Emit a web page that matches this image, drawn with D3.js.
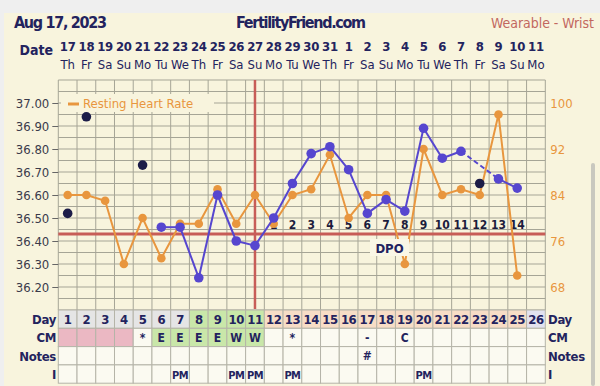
<!DOCTYPE html>
<html><head><meta charset="utf-8">
<script src="https://cdn.jsdelivr.net/npm/d3@7"></script>
<style>
html,body{margin:0;padding:0;background:#efefef;}
svg{display:block;}
text{font-family:"DejaVu Sans Condensed","DejaVu Sans",Verdana,sans-serif;}
</style></head><body>
<svg id="c" width="600" height="386"></svg>
<script>
// ---- data ----
const days = d3.range(1, 27);
const dates = [17,18,19,20,21,22,23,24,25,26,27,28,29,30,31,1,2,3,4,5,6,7,8,9,10,11];
const weekdays = ["Th","Fr","Sa","Su","Mo","Tu","We","Th","Fr","Sa","Su","Mo","Tu","We","Th","Fr","Sa","Su","Mo","Tu","We","Th","Fr","Sa","Su","Mo"];
const temps = [36.52,36.94,null,null,36.73,36.46,36.46,36.24,36.60,36.40,36.38,36.50,36.65,36.78,36.81,36.71,36.52,36.58,36.53,36.89,36.76,36.79,36.65,36.67,36.63,null];
const excludedDays = [1,2,5,23];
const heartRate = [84,84,83,72,80,73,79,79,85,79,84,79,84,85,91,80,84,84,72,92,84,85,84,98,70,null];
const tempTicks = [37.00,36.90,36.80,36.70,36.60,36.50,36.40,36.30,36.20];
const hrTicks = [100,92,84,76,68];
const coverline = 36.43;
const ovulationDay = 11;
const dpoLabels = [1,2,3,4,5,6,7,8,9,10,11,12,13,14];
const dpoStartDay = 12;
const dayRowType = ["g","g","g","g","g","g","g","e","e","e","e","p","p","p","p","p","p","p","p","p","p","p","p","p","p","l"];
const cm = ["","","","","*","E","E","E","E","W","W","","*","","","","-","","C","","","","","","",""];
const cmType = ["r","r","r","r","","e","e","e","e","e","e","","","","","","","","","","","","","","",""];
const notes = ["","","","","","","","","","","","","","","","","#","","","","","","","","",""];
const intercourse = ["","","","","","","PM","","","PM","PM","","PM","","","","","","","PM","","","","","",""];

// ---- styles ----
const NAVY = "#23235e", BLUE = "#5646cf", DARK = "#1c1c48", ORANGE = "#e8963e", RED = "#c75d57", GRID = "#a6a596";
const svg = d3.select("#c");
svg.append("rect").attr("x",4).attr("y",13).attr("width",596).attr("height",373).attr("fill","#f8f4dd");

const x = d3.scaleBand().domain(days).range([58.3, 545.3]).padding(0);
const cx = d => x(d) + x.bandwidth()/2;
const yT = d3.scaleLinear().domain([36.10, 37.10]).range([310, 80]);
const yH = d3.scaleLinear().domain([64, 104]).range([310, 80]);

// header
svg.append("text").attr("x",14).attr("y",28).attr("font-size",16).attr("font-weight","bold").attr("fill",NAVY)
  .attr("textLength",93).text("Aug 17, 2023");
svg.append("text").attr("x",236).attr("y",28).attr("font-size",16).attr("font-weight","bold").attr("fill",NAVY)
  .attr("textLength",130).text("FertilityFriend.com");
svg.append("text").attr("x",491).attr("y",28).attr("font-size",14).attr("fill","#c2675f")
  .attr("textLength",103).text("Wearable - Wrist");
svg.append("text").attr("x",53).attr("y",55).attr("font-size",14).attr("font-weight","bold").attr("fill",NAVY)
  .attr("text-anchor","end").text("Date");
svg.append("g").selectAll("text").data(days).join("text")
  .attr("x",d=>cx(d)).attr("y",51).attr("text-anchor","middle").attr("font-size",13).attr("font-weight","bold").attr("fill",NAVY)
  .attr("letter-spacing",-0.3).text((d,i)=>dates[i]);
svg.append("g").selectAll("text").data(days).join("text")
  .attr("x",d=>cx(d)).attr("y",69).attr("text-anchor","middle").attr("font-size",13).attr("fill",NAVY)
  .text((d,i)=>weekdays[i]);

// grid
const gy = d3.range(36.10, 37.1001, 0.05);
svg.append("g").selectAll("line").data(gy).join("line")
  .attr("x1",x.range()[0]).attr("x2",x.range()[1]).attr("y1",d=>yT(d)).attr("y2",d=>yT(d))
  .attr("stroke",GRID).attr("stroke-width",1);
svg.append("g").selectAll("line").data(d3.range(0,27)).join("line")
  .attr("x1",i=>x.range()[0]+i*x.bandwidth()).attr("x2",i=>x.range()[0]+i*x.bandwidth())
  .attr("y1",80).attr("y2",310).attr("stroke",GRID).attr("stroke-width",1);

// axes
const axL = svg.append("g").attr("transform",`translate(${x.range()[0]},0)`)
  .call(d3.axisLeft(yT).tickValues(tempTicks).tickFormat(d3.format(".2f")).tickSize(6).tickPadding(3));
axL.select(".domain").remove();
axL.selectAll("line").attr("stroke","#666");
axL.selectAll("text").attr("font-size",13).attr("fill","#3a3a4a").attr("font-family","DejaVu Sans Condensed, DejaVu Sans");
const axR = svg.append("g").attr("transform",`translate(${x.range()[1]},0)`)
  .call(d3.axisRight(yH).tickValues(hrTicks).tickSize(0).tickPadding(5));
axR.select(".domain").remove();
axR.selectAll("text").attr("font-size",13).attr("fill",ORANGE).attr("font-family","DejaVu Sans Condensed, DejaVu Sans");

// legend
svg.append("rect").attr("x",61).attr("y",94).attr("width",153).attr("height",18).attr("fill","#f8f4dd");
svg.append("line").attr("x1",68).attr("x2",79).attr("y1",104).attr("y2",104).attr("stroke",ORANGE).attr("stroke-width",3);
svg.append("text").attr("x",83).attr("y",108).attr("font-size",13).attr("fill",ORANGE).text("Resting Heart Rate");

// coverline + ovulation line
svg.append("line").attr("x1",x.range()[0]).attr("x2",x.range()[1]).attr("y1",yT(coverline)).attr("y2",yT(coverline))
  .attr("stroke",RED).attr("stroke-width",3);
svg.append("line").attr("x1",cx(ovulationDay)).attr("x2",cx(ovulationDay)).attr("y1",80).attr("y2",309)
  .attr("stroke",RED).attr("stroke-width",2.5);

// DPO numbers
svg.append("g").selectAll("text").data(dpoLabels).join("text")
  .attr("x",(d,i)=>cx(dpoStartDay+i)).attr("y",229).attr("text-anchor","middle").attr("font-size",12).attr("font-weight","bold").attr("fill","#1c1c3c")
  .text(d=>d);

// heart rate line
const hrPts = days.map((d,i)=>({d, v: heartRate[i]})).filter(p=>p.v!=null);
svg.append("path").datum(hrPts).attr("fill","none").attr("stroke",ORANGE).attr("stroke-width",2)
  .attr("d", d3.line().x(p=>cx(p.d)).y(p=>yH(p.v)));

// DPO box
svg.append("rect").attr("x",370).attr("y",239).attr("width",39).attr("height",17).attr("fill","#faf7e6");
svg.append("text").attr("x",389.5).attr("y",252.5).attr("text-anchor","middle").attr("font-size",13).attr("font-weight","bold").attr("fill",NAVY).text("DPO");

svg.append("g").selectAll("circle").data(hrPts).join("circle")
  .attr("cx",p=>cx(p.d)).attr("cy",p=>yH(p.v)).attr("r",4.3).attr("fill",ORANGE);

// temperature line
const tPts = days.map((d,i)=>({d, v: temps[i], ex: excludedDays.includes(d)})).filter(p=>p.v!=null);
const used = tPts.filter(p=>!p.ex);
const segs = [];
for (let i=1;i<used.length;i++){
  segs.push({a:used[i-1], b:used[i], dashed: used[i].d-used[i-1].d>1});
}
svg.append("g").selectAll("line").data(segs).join("line")
  .attr("x1",s=>cx(s.a.d)).attr("y1",s=>yT(s.a.v)).attr("x2",s=>cx(s.b.d)).attr("y2",s=>yT(s.b.v))
  .attr("stroke",BLUE).attr("stroke-width",2).attr("stroke-dasharray",s=>s.dashed?"5,3":null);
svg.append("g").selectAll("circle").data(tPts).join("circle")
  .attr("cx",p=>cx(p.d)).attr("cy",p=>yT(p.v)).attr("r",4.8).attr("fill",p=>p.ex?DARK:BLUE);

// table
const rowY = [310,328.3,346.6,364.9,383.2];
const dayFill = {g:"#e5e5e5", e:"#c9e7a9", p:"#f7ddc6", l:"#e2e2ef"};
const cmFill = {r:"#ebb8c3", e:"#c9e7a9"};
const tbl = svg.append("g");
const rows = [
  {label:"Day", vals: days.map(String), fill: i=>dayFill[dayRowType[i]], size:13, ls:-0.4},
  {label:"CM", vals: cm, fill: i=>cmFill[cmType[i]]||"#fbfaf1", size:12, ls:0},
  {label:"Notes", vals: notes, fill: ()=>"#fbfaf1", size:12, ls:0},
  {label:"I", vals: intercourse, fill: ()=>"#fbfaf1", size:11, ls:-0.6}
];
rows.forEach((r,ri)=>{
  const y0 = rowY[ri], h = rowY[ri+1]-rowY[ri];
  tbl.append("g").selectAll("rect").data(days).join("rect")
    .attr("x",d=>x(d)).attr("y",y0).attr("width",x.bandwidth()).attr("height",h)
    .attr("fill",(d,i)=>r.fill(i)).attr("stroke","#b5b4a8").attr("stroke-width",1);
  tbl.append("g").selectAll("text").data(days).join("text")
    .attr("x",d=>cx(d)).attr("y",y0+h/2+4.5).attr("text-anchor","middle")
    .attr("font-size",r.size).attr("font-weight","bold").attr("fill",NAVY).attr("letter-spacing",r.ls)
    .text((d,i)=>r.vals[i]);
  tbl.append("text").attr("x",56).attr("y",y0+h/2+5).attr("text-anchor","end").attr("font-size",13).attr("font-weight","bold").attr("fill",NAVY).attr("letter-spacing",-0.3).text(r.label);
  tbl.append("text").attr("x",548).attr("y",y0+h/2+5).attr("font-size",13).attr("font-weight","bold").attr("fill",NAVY).attr("letter-spacing",-0.3).text(r.label);
});

// scrollbar
svg.append("rect").attr("x",591).attr("y",163).attr("width",4).attr("height",223).attr("rx",2).attr("fill","#c9c8bf");
</script>
</body></html>
